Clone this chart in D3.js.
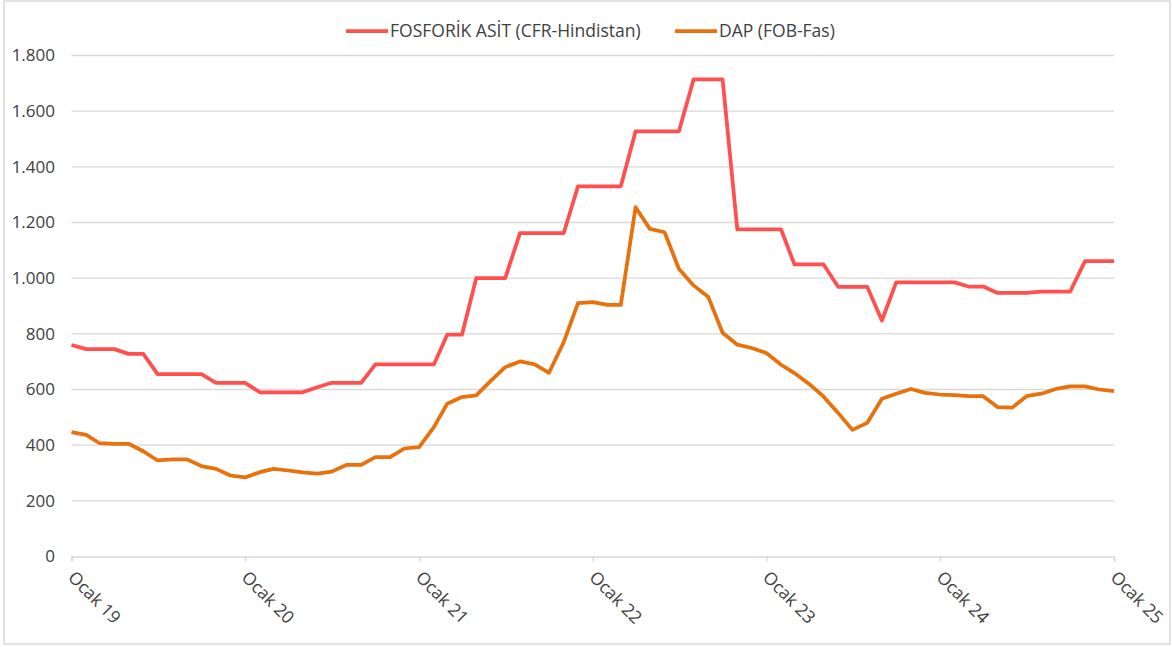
<!DOCTYPE html>
<meta charset="utf-8">
<style>
body { margin: 0; background: #fff; }
svg text { font-family: "Open Sans", "Noto Sans", sans-serif; fill: #404040; }
.grid line { stroke: #d9d9d9; stroke-width: 1.3; }
</style>
<body>
<svg id="chart" width="1172" height="647"></svg>
<script src="https://cdn.jsdelivr.net/npm/d3@7"></script>
<script>

// monthly, Ocak 2019 .. Ocak 2025
var months = d3.timeMonth.range(new Date(2019, 0, 1), new Date(2025, 1, 1));

var fosforik = [
  760, 745, 745, 745, 728, 728, 655, 655, 655, 655, 624, 624,
  624, 590, 590, 590, 590, 608, 624, 624, 624, 690, 690, 690,
  690, 690, 797, 797, 1000, 1000, 1000, 1162, 1162, 1162, 1162, 1330,
  1330, 1330, 1330, 1527, 1527, 1527, 1527, 1714, 1714, 1714, 1175, 1175,
  1175, 1175, 1050, 1050, 1050, 969, 969, 969, 848, 985, 985, 985,
  985, 985, 970, 970, 947, 947, 947, 952, 952, 952, 1061, 1061,
  1061
];

var dap = [
  447, 437, 407, 405, 405, 378, 345, 349, 349, 325, 315, 291,
  284, 303, 315, 309, 302, 298, 305, 329, 329, 357, 357, 388,
  393, 465, 549, 573, 579, 632, 680, 701, 690, 660, 770, 910,
  914, 904, 904, 1255, 1177, 1165, 1034, 974, 932, 804, 761, 749,
  731, 689, 659, 620, 575, 516, 455, 480, 567, 585, 602, 588,
  582, 580, 576, 576, 537, 535, 576, 585, 602, 611, 611, 600,
  594
];

var seriesNames = ["FOSFORİK ASİT (CFR-Hindistan)", "DAP (FOB-Fas)"];
var seriesColors = ["#ff4f4f", "#e8710c"];
var yTicks = [0, 200, 400, 600, 800, 1000, 1200, 1400, 1600, 1800];

var svg = d3.select("#chart");

// outer frame
svg.append("rect")
  .attr("x", 4).attr("y", 1)
  .attr("width", 1166).attr("height", 643)
  .attr("fill", "none")
  .attr("stroke", "#d9d9d9")
  .attr("stroke-width", 1.5);

var x = d3.scaleTime()
  .domain([months[0], months[months.length - 1]])
  .range([71.5, 1114]);

var y = d3.scaleLinear()
  .domain([0, 1800])
  .range([556.5, 55.5]);

var fmt = d3.formatLocale({ decimal: ",", thousands: ".", grouping: [3], currency: ["", ""] }).format(",d");

// gridlines
svg.append("g")
  .attr("class", "grid")
  .selectAll("line")
  .data(yTicks.slice(1))
  .enter().append("line")
  .attr("x1", 71.5).attr("x2", 1114)
  .attr("y1", function(d) { return y(d); })
  .attr("y2", function(d) { return y(d); });

// y labels
svg.append("g")
  .selectAll("text")
  .data(yTicks)
  .enter().append("text")
  .attr("x", 55)
  .attr("y", function(d) { return y(d); })
  .attr("dy", "0.35em")
  .attr("text-anchor", "end")
  .style("font-size", "17px")
  .text(function(d) { return fmt(d); });

// x axis
var years = d3.timeYear.range(new Date(2019, 0, 1), new Date(2025, 1, 1));
var xAxis = d3.axisBottom(x)
  .tickValues(years)
  .tickSize(5)
  .tickFormat(function(d) { return "Ocak " + d3.timeFormat("%y")(d); });

var gx = svg.append("g")
  .attr("transform", "translate(0,556.5)")
  .call(xAxis);
gx.select(".domain").attr("stroke", "#d9d9d9").attr("stroke-width", 1.5);
gx.selectAll(".tick line").attr("stroke", "#d9d9d9").attr("stroke-width", 1.5);
gx.selectAll(".tick text")
  .attr("y", 0).attr("dy", 0)
  .attr("text-anchor", "start")
  .attr("transform", "translate(-5,22) rotate(45)")
  .style("font-size", "17.5px")
  .style("fill", "#404040");

// lines
var line = d3.line()
  .x(function(d, i) { return x(months[i]); })
  .y(function(d) { return y(d); });

[fosforik, dap].forEach(function(s, k) {
  svg.append("path")
    .datum(s)
    .attr("fill", "none")
    .attr("stroke", seriesColors[k])
    .attr("stroke-width", 3.75)
    .attr("stroke-linejoin", "round")
    .attr("d", line);
});

// legend
var legX = [346, 675];
seriesNames.forEach(function(n, k) {
  var g = svg.append("g").attr("transform", "translate(" + legX[k] + ",31)");
  g.append("line")
    .attr("x1", 0).attr("x2", 42)
    .attr("stroke", seriesColors[k])
    .attr("stroke-width", 3.75);
  g.append("text")
    .attr("x", 44)
    .attr("dy", "0.35em")
    .style("font-size", "17.5px")
    .text(n);
});

</script>
</body>
